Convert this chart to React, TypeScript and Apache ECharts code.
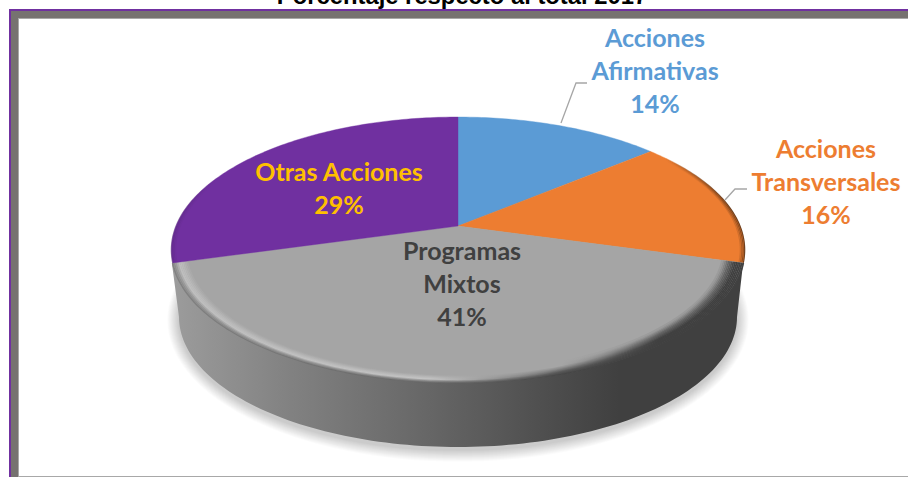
import React, { useEffect, useRef } from "react";
import * as echarts from "echarts";

const titleText = "Porcentaje respecto al total 2017";
const categories = [["Acciones", "Afirmativas"], ["Acciones", "Transversales"], ["Programas", "Mixtos"], ["Otras Acciones"]];
const shares = [13.8, 15.6, 41.2, 29.4];
const sliceColors = ["#5b9bd5", "#ed7d31", "#a5a5a5", "#7030a0"];
const labelColors = ["#5b9bd5", "#ed7d31", "#404040", "#ffc000"];

// layout of the projected disc
const AX = 458, AY = 226, RA = 282, RB = 128.6, K = 0.18;
const BOTTOM = { cx: 458, cy: 317, rx: 279, ry: 130 };
const TOP_ELL = { cx: 458, cy: 250, rx: 287 };
const labelAt = [
  { x: 655, y: 70 },
  { x: 826, y: 181 },
  { x: 462, y: 283 },
  { x: 339, y: 187 },
];
const leaders: (number[][] | null)[] = [
  [[561, 123], [576, 83], [587, 83]],
  [[725, 200], [735, 189], [747, 189]],
  null,
  null,
];

function project(theta: number, s = 1): [number, number] {
  const w = 1 + K * Math.cos(theta);
  return [AX + (s * RA * Math.sin(theta)) / w, AY - (s * RB * Math.cos(theta)) / w];
}
function arcPoints(a0: number, a1: number, s = 1) {
  const n = Math.max(8, Math.ceil(Math.abs(a1 - a0) * 60));
  const pts: string[] = [];
  for (let i = 0; i <= n; i++) {
    const [x, y] = project(a0 + ((a1 - a0) * i) / n, s);
    pts.push(`${x.toFixed(2)} ${y.toFixed(2)}`);
  }
  return pts;
}
function sliceRange(i: number): [number, number] {
  const total = shares.reduce((a, b) => a + b, 0);
  const before = shares.slice(0, i).reduce((a, b) => a + b, 0);
  return [(before / total) * Math.PI * 2, ((before + shares[i]) / total) * Math.PI * 2];
}
function hex(c: number[]) {
  return `rgb(${c.map((v) => Math.round(v)).join(",")})`;
}
function lerpTable(table: [number, number][], t: number) {
  for (let i = 1; i < table.length; i++) {
    if (t <= table[i][0]) {
      const [t0, v0] = table[i - 1];
      const [t1, v1] = table[i];
      return v0 + ((v1 - v0) * (t - t0)) / (t1 - t0);
    }
  }
  return table[table.length - 1][1];
}
const hGrad = (stops: [number, string][]) => ({
  type: "linear",
  global: true,
  x: 172,
  y: 0,
  x2: 745,
  y2: 0,
  colorStops: stops.map(([offset, color]) => ({ offset, color })),
});
const wallFill = hGrad([
  [0, "#9c9c9c"],
  [0.2, "#828282"],
  [0.45, "#666666"],
  [0.62, "#525252"],
  [0.78, "#404040"],
  [1, "#404040"],
]);

function wallPath() {
  const pts: string[] = [];
  const { cx, cy, rx, ry } = BOTTOM;
  for (let i = 0; i <= 120; i++) {
    const a = Math.PI - (Math.PI * i) / 120;
    pts.push(`${(cx + rx * Math.cos(a)).toFixed(2)} ${(cy + ry * Math.sin(a)).toFixed(2)}`);
  }
  const start = `M${TOP_ELL.cx - TOP_ELL.rx + 1} ${TOP_ELL.cy + 14}`;
  return `${start} L${pts.join(" L")} L${TOP_ELL.cx + TOP_ELL.rx - 2} ${TOP_ELL.cy + 14} Z`;
}

function shadowLayers() {
  const out: any[] = [];
  for (let k = 13; k >= 1; k--) {
    out.push({
      type: "ellipse",
      shape: { cx: BOTTOM.cx, cy: BOTTOM.cy + 3, rx: BOTTOM.rx + k * 0.9, ry: BOTTOM.ry + k * 0.9 },
      style: { fill: "rgba(0,0,0,0.017)" },
    });
  }
  return out;
}

function renderSlice(params: any) {
  const i = params.dataIndex;
  const [a0, a1] = sliceRange(i);
  const d = `M${AX} ${AY} L${arcPoints(a0, a1).join(" L")} Z`;
  const children: any[] = [
    {
      type: "path",
      shape: { pathData: d },
      style: { fill: sliceColors[i], stroke: sliceColors[i], lineWidth: 0.4 },
    },
  ];
  const steps = 14;
  if (i === 2) {
    for (let k = 0; k < steps; k++) {
      const leftV = lerpTable([[0, 130], [2, 155], [4, 190], [6, 185], [10, 165], [14, 165]], k);
      const midV = lerpTable([[0, 100], [2, 140], [4, 195], [6, 185], [9, 165], [14, 165]], k);
      const fadeV = lerpTable([[0, 70], [3, 90], [6, 130], [9, 165], [14, 165]], k);
      const rightV = lerpTable([[0, 64], [5, 64], [9, 100], [12, 145], [14, 165]], k);
      const s = 1 - (k * 0.9) / 157;
      const col = (v: number) => hex([v, v, v]);
      children.push({
        type: "path",
        shape: { pathData: `M${arcPoints(a0, a1, s).join(" L")}` },
        style: {
          fill: null,
          lineWidth: 1.8,
          stroke: hGrad([
            [0, col(leftV)],
            [0.45, col(midV)],
            [0.68, col(fadeV)],
            [0.85, col(rightV)],
            [1, col(rightV)],
          ]),
        },
      });
    }
  }
  if (i === 1 || i === 3) {
    const rim = i === 1 ? "90,48,18" : "70,30,100";
    for (let k = 0; k < 4; k++) {
      const alpha = (0.85 - k * 0.22) * (i === 1 ? 1 : 0.45);
      const s = 1 - (k * 0.8) / 157;
      children.push({
        type: "path",
        shape: { pathData: `M${arcPoints(a0, a1, s).join(" L")}` },
        style: {
          fill: null,
          lineWidth: 1.2,
          stroke:
            i === 1
              ? hGrad([
                  [0.86, `rgba(${rim},0)`],
                  [0.97, `rgba(${rim},${alpha})`],
                  [1, `rgba(${rim},${alpha})`],
                ])
              : hGrad([
                  [0, `rgba(${rim},${alpha})`],
                  [0.08, `rgba(${rim},0)`],
                  [1, `rgba(${rim},0)`],
                ]),
        },
      });
    }
  }
  return { type: "group", children };
}

function renderLabel(params: any, api: any) {
  const i = params.dataIndex;
  const text = categories[i].concat(`${Math.round(api.value(0))}%`).join("\n");
  const children: any[] = [
    {
      type: "text",
      x: labelAt[i].x,
      y: labelAt[i].y,
      style: {
        text,
        fill: labelColors[i],
        font: 'bold 25px Lato, "Open Sans", sans-serif',
        align: "center",
        verticalAlign: "middle",
        lineHeight: 33,
      },
    },
  ];
  const leader = leaders[i];
  if (leader) {
    children.unshift({
      type: "polyline",
      shape: { points: leader },
      style: { fill: null, stroke: "#a6a6a6", lineWidth: 1.3 },
    });
  }
  return { type: "group", children };
}

export default function App() {
  const ref = useRef<HTMLDivElement>(null);
  useEffect(() => {
    document.body.style.margin = "0";
    document.body.style.overflow = "hidden";
    const chart = echarts.init(ref.current!, undefined, { renderer: "svg" });
    chart.setOption({
      animation: false,
      backgroundColor: "#ffffff",
      graphic: {
        elements: [
          { type: "rect", shape: { x: 9, y: 9, width: 899, height: 468 }, style: { fill: "#7030a0" }, z: 0 },
          { type: "rect", shape: { x: 11, y: 11, width: 897, height: 466 }, style: { fill: "#767270" }, z: 0 },
          { type: "rect", shape: { x: 18, y: 18, width: 890, height: 459 }, style: { fill: "#a8a8a8" }, z: 0 },
          { type: "rect", shape: { x: 19, y: 19, width: 889, height: 457 }, style: { fill: "#ffffff" }, z: 0 },
          {
            type: "text",
            x: 462,
            y: -17,
            z: 0,
            style: {
              text: titleText,
              fill: "#000000",
              font: 'bold 23.8px "Liberation Sans", Arial, sans-serif',
              align: "center",
              verticalAlign: "top",
            },
          },
        ],
      },
      series: [
        {
          type: "custom",
          coordinateSystem: "none",
          silent: true,
          z: 1,
          data: [shares[2]],
          renderItem: () => ({
            type: "group",
            children: [
              ...shadowLayers(),
              {
                type: "path",
                shape: { pathData: wallPath() },
                style: { fill: wallFill },
              },
            ],
          }),
        },
        {
          type: "custom",
          name: "Porcentaje",
          coordinateSystem: "none",
          silent: true,
          z: 2,
          data: shares,
          renderItem: renderSlice,
        },
        {
          type: "custom",
          coordinateSystem: "none",
          silent: true,
          z: 3,
          data: shares,
          renderItem: renderLabel,
        },
      ],
    });
    return () => chart.dispose();
  }, []);
  return <div ref={ref} style={{ width: 908, height: 477 }} />;
}
